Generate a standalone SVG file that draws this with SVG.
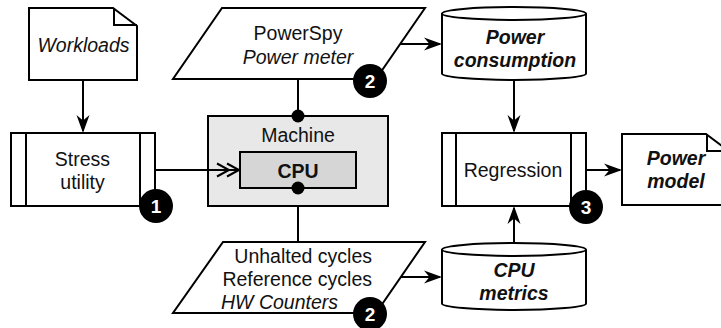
<svg xmlns="http://www.w3.org/2000/svg" width="721" height="328" viewBox="0 0 721 328">
<style>
.s{fill:#fff;stroke:#000;stroke-width:2;stroke-linejoin:miter}
.l{fill:none;stroke:#000;stroke-width:2}
text{font-family:"Liberation Sans",Arial,Helvetica,sans-serif;font-size:19.5px;fill:#111;text-anchor:middle}
.i{font-style:italic}
.b{font-weight:bold}
.bi{font-weight:bold;font-style:italic}
.badge circle{fill:#000}
.badge text{fill:#fff;font-weight:bold;font-size:19px}
</style>
<defs>
<marker id="arr" viewBox="-20 -8 22 16" refX="-2" refY="0" markerWidth="22" markerHeight="16" markerUnits="userSpaceOnUse" orient="auto">
<path d="M0,0 L-18,-6.5 L-12.5,0 L-18,6.5 Z" fill="#000"/>
</marker>
<marker id="dbl" viewBox="-26 -9 28 18" refX="-1" refY="0" markerWidth="28" markerHeight="18" markerUnits="userSpaceOnUse" orient="auto">
<path d="M-13,-6.5 L-1,0 L-13,6.5 M-23,-6.5 L-11,0 L-23,6.5" fill="none" stroke="#000" stroke-width="2"/>
</marker>
</defs>

<g id="connectors">
<line class="l" x1="83" y1="80" x2="83" y2="131" marker-end="url(#arr)"/>
<line class="l" x1="298" y1="79" x2="298" y2="116"/>
<line class="l" x1="298" y1="188" x2="298" y2="242"/>
<line class="l" x1="400" y1="44" x2="440" y2="44" marker-end="url(#arr)"/>
<line class="l" x1="401" y1="277" x2="440" y2="277" marker-end="url(#arr)"/>
<line class="l" x1="514" y1="80" x2="514" y2="131" marker-end="url(#arr)"/>
<line class="l" x1="514" y1="243" x2="514" y2="208" marker-end="url(#arr)"/>
<line class="l" x1="586" y1="170" x2="620" y2="170" marker-end="url(#arr)"/>
</g>

<g id="workloads">
<path class="s" d="M29,8 H113 L137,26 V80 H29 Z"/>
<path class="l" d="M114,8 V25 H137"/>
<text class="i" x="83.5" y="52">Workloads</text>
</g>

<g id="stress">
<rect class="s" x="11" y="133" width="144" height="73"/>
<path class="l" d="M26,133 V206 M140,133 V206"/>
<text x="82.5" y="166">Stress</text>
<text x="82.5" y="189">utility</text>
</g>

<g id="machine">
<rect x="208" y="116" width="180" height="90" fill="#e8e8e8" stroke="#000" stroke-width="2"/>
<text x="298" y="142">Machine</text>
</g>

<g id="stress-edge">
<line class="l" x1="155" y1="170" x2="239" y2="170" marker-end="url(#dbl)"/>
</g>

<g id="cpu">
<rect x="240" y="152" width="116" height="36" fill="#d6d6d6" stroke="#000" stroke-width="2"/>
<text class="b" x="298" y="178">CPU</text>
</g>

<g id="dots">
<circle cx="298" cy="116" r="6.5" fill="#000"/>
<circle cx="298" cy="188" r="6.5" fill="#000"/>
</g>

<g id="powerspy">
<path class="s" d="M222,8 H425 L376,79 H173 Z"/>
<text x="298" y="39.5">PowerSpy</text>
<text class="i" x="298" y="63.5">Power meter</text>
</g>

<g id="hwcounters">
<path class="s" d="M223,242 H425 L376,313 H173 Z"/>
<text x="372" y="262.5" style="text-anchor:end">Unhalted cycles</text>
<text x="372" y="285.5" style="text-anchor:end">Reference cycles</text>
<text class="i" x="221" y="308.5" style="text-anchor:start">HW Counters</text>
</g>

<g id="powerconsumption">
<path class="s" d="M442,13.5 A72,6.5 0 0 1 586,13.5 V73.5 A72,6.5 0 0 1 442,73.5 Z"/>
<path class="l" d="M442,13.5 A72,6.5 0 0 0 586,13.5"/>
<text class="bi" x="515" y="43.5">Power</text>
<text class="bi" x="515" y="67">consumption</text>
</g>

<g id="cpumetrics">
<path class="s" d="M442,249.5 A72,6.5 0 0 1 586,249.5 V303.5 A72,6.5 0 0 1 442,303.5 Z"/>
<path class="l" d="M442,249.5 A72,6.5 0 0 0 586,249.5"/>
<text class="bi" x="514" y="277">CPU</text>
<text class="bi" x="514" y="300">metrics</text>
</g>

<g id="regression">
<rect class="s" x="442" y="133" width="144" height="73"/>
<path class="l" d="M456,133 V206 M571,133 V206"/>
<text x="513" y="177">Regression</text>
</g>

<g id="powermodel">
<path class="s" d="M622,134 H706 L730,152 V205 H622 Z"/>
<path class="l" d="M707,134 V151 H730"/>
<text class="bi" x="676" y="165">Power</text>
<text class="bi" x="676" y="188">model</text>
</g>

<g id="badge1" class="badge"><circle cx="156" cy="206" r="17"/><text x="156" y="213">1</text></g>
<g id="badge2a" class="badge"><circle cx="370" cy="81" r="17"/><text x="370" y="88">2</text></g>
<g id="badge2b" class="badge"><circle cx="370" cy="314" r="17"/><text x="370" y="321">2</text></g>
<g id="badge3" class="badge"><circle cx="586" cy="207" r="17"/><text x="586" y="214">3</text></g>
</svg>
